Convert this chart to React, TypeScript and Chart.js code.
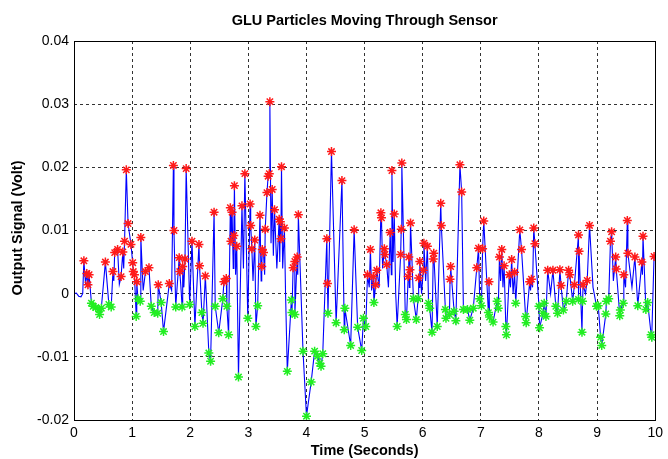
import { useEffect, useRef } from "react";
import { Chart, registerables } from "chart.js";

Chart.register(...registerables);

const chartTitle = "GLU Particles Moving Through Sensor";
const xTitle = "Time (Seconds)";
const yTitle = "Output Signal (Volt)";

const xTicks = [0, 1, 2, 3, 4, 5, 6, 7, 8, 9, 10];
const yTicks = [-0.02, -0.01, 0, 0.01, 0.02, 0.03, 0.04];
const yTickLabels = ["-0.02", "-0.01", "0", "0.01", "0.02", "0.03", "0.04"];

// red markers (peaks)
const peakTimes = [
  0.17, 0.22, 0.24, 0.26, 0.54, 0.67, 0.70, 0.75, 0.81, 0.84, 0.87, 0.90, 0.93, 0.98,
  1.01, 1.02, 1.04, 1.08, 1.15, 1.23, 1.29, 1.45, 1.64, 1.71, 1.72, 1.81, 1.82, 1.87,
  1.91, 1.93, 2.03, 2.15, 2.16, 2.26, 2.41, 2.58, 2.62, 2.69, 2.70, 2.72, 2.75, 2.76,
  2.80, 2.89, 2.94, 3.03, 3.04, 3.06, 3.11, 3.20, 3.23, 3.24, 3.26, 3.29, 3.32, 3.34,
  3.36, 3.37, 3.41, 3.45, 3.53, 3.55, 3.56, 3.57, 3.62, 3.77, 3.80, 3.84, 3.86, 4.35,
  4.36, 4.43, 4.61, 4.82, 5.05, 5.10, 5.15, 5.19, 5.21, 5.28, 5.29, 5.34, 5.35, 5.38,
  5.44, 5.47, 5.51, 5.62, 5.63, 5.64, 5.75, 5.76, 5.78, 5.79, 5.93, 5.95, 6.01, 6.02,
  6.08, 6.18, 6.19, 6.31, 6.32, 6.47, 6.48, 6.64, 6.67, 6.93, 6.96, 7.03, 7.05, 7.14,
  7.32, 7.36, 7.40, 7.49, 7.53, 7.58, 7.67, 7.70, 7.84, 7.87, 7.91, 7.93, 8.15, 8.24,
  8.36, 8.38, 8.51, 8.53, 8.61, 8.68, 8.69, 8.76, 8.83, 8.87, 9.23, 9.25, 9.32, 9.33,
  9.46, 9.52, 9.53, 9.65, 9.77, 9.79, 9.98,
];
const peakValues = [
  0.0052, 0.0032, 0.0014, 0.0030, 0.0050, 0.0035, 0.0065, 0.0070, 0.0027, 0.0066, 0.0083, 0.0196, 0.0111, 0.0078,
  0.0049, 0.0035, 0.0030, 0.0019, 0.0089, 0.0035, 0.0041, 0.0014, 0.0016, 0.0203, 0.0100, 0.0057, 0.0035, 0.0043,
  0.0055, 0.0198, 0.0083, 0.0078, 0.0044, 0.0028, 0.0129, 0.0019, 0.0024, 0.0136, 0.0083, 0.0129, 0.0092, 0.0171,
  0.0075, 0.0139, 0.0190, 0.0142, 0.0108, 0.0071, 0.0085, 0.0124, 0.0043, 0.0070, 0.0065, 0.0102, 0.0160, 0.0186,
  0.0190, 0.0304, 0.0165, 0.0133, 0.0118, 0.0114, 0.0087, 0.0201, 0.0104, 0.0041, 0.0051, 0.0058, 0.0125, 0.0087,
  0.0016, 0.0225, 0.0179, 0.0101, 0.0030, 0.0070, 0.0027, 0.0014, 0.0037, 0.0128, 0.0120, 0.0071, 0.0062, 0.0046,
  0.0097, 0.0195, 0.0126, 0.0062, 0.0102, 0.0207, 0.0027, 0.0058, 0.0038, 0.0112, 0.0025, 0.0051, 0.0037, 0.0080,
  0.0075, 0.0055, 0.0064, 0.0143, 0.0108, 0.0023, 0.0043, 0.0204, 0.0161, 0.0041, 0.0072, 0.0071, 0.0115, 0.0019,
  0.0058, 0.0070, 0.0044, 0.0030, 0.0054, 0.0034, 0.0101, 0.0070, 0.0019, 0.0023, 0.0104, 0.0079, 0.0037, 0.0037,
  0.0038, 0.0013, 0.0037, 0.0030, 0.0014, 0.0093, 0.0067, 0.0014, 0.0021, 0.0108, 0.0083, 0.0098, 0.0058, 0.0039,
  0.0030, 0.0116, 0.0064, 0.0058, 0.0050, 0.0091, 0.0059,
];

// green markers (troughs)
const troughTimes = [
  0.30, 0.33, 0.375, 0.43, 0.44, 0.47, 0.60, 0.64, 1.07, 1.10, 1.14, 1.33, 1.38, 1.44,
  1.50, 1.54, 1.75, 1.86, 1.99, 2.08, 2.20, 2.22, 2.32, 2.35, 2.43, 2.49, 2.56, 2.63,
  2.66, 2.83, 2.99, 3.13, 3.16, 3.67, 3.74, 3.75, 3.80, 3.94, 4.00, 4.08, 4.14, 4.19,
  4.23, 4.25, 4.28, 4.37, 4.51, 4.65, 4.66, 4.76, 4.88, 4.95, 4.98, 5.02, 5.16, 5.56,
  5.70, 5.72, 5.84, 5.89, 5.92, 6.10, 6.12, 6.16, 6.25, 6.39, 6.40, 6.46, 6.54, 6.57,
  6.70, 6.77, 6.81, 6.87, 6.98, 7.01, 7.13, 7.15, 7.21, 7.28, 7.30, 7.43, 7.44, 7.60,
  7.77, 7.78, 8.00, 8.01, 8.07, 8.09, 8.12, 8.29, 8.32, 8.42, 8.47, 8.58, 8.68, 8.74,
  8.75, 8.99, 9.02, 9.06, 9.08, 9.15, 9.16, 9.20, 9.39, 9.40, 9.45, 9.70, 9.84, 9.87,
  9.93, 9.94,
];
const troughValues = [
  -0.0015, -0.0020, -0.0022, -0.0025, -0.0033, -0.0023, -0.0017, -0.0021, -0.0036, -0.0008, -0.0012, -0.0020, -0.0030, -0.0031,
  -0.0014, -0.0060, -0.0021, -0.0021, -0.0017, -0.0052, -0.0030, -0.0047, -0.0094, -0.0107, -0.0020, -0.0062, -0.0008, -0.0020,
  -0.0065, -0.0132, -0.0039, -0.0052, -0.0019, -0.0123, -0.0010, -0.0030, -0.0033, -0.0091, -0.0194, -0.0140, -0.0091, -0.0099,
  -0.0110, -0.0115, -0.0095, -0.0031, -0.0046, -0.0057, -0.0023, -0.0082, -0.0053, -0.0090, -0.0039, -0.0052, -0.0014, -0.0052,
  -0.0033, -0.0041, -0.0008, -0.0041, -0.0008, -0.0015, -0.0023, -0.0061, -0.0052, -0.0025, -0.0039, -0.0033, -0.0028, -0.0043,
  -0.0025, -0.0025, -0.0042, -0.0023, -0.0008, -0.0019, -0.0030, -0.0037, -0.0045, -0.0012, -0.0023, -0.0052, -0.0065, -0.0015,
  -0.0036, -0.0046, -0.0020, -0.0054, -0.0031, -0.0015, -0.0036, -0.0020, -0.0031, -0.0026, -0.0012, -0.0012, -0.0009, -0.0061,
  -0.0012, -0.0020, -0.0019, -0.0069, -0.0082, -0.0032, -0.0012, -0.0008, -0.0035, -0.0026, -0.0015, -0.0019, -0.0025, -0.0014,
  -0.0065, -0.0069,
];

// unmarked samples of the signal (baseline, valleys between neighbouring peaks, end)
const baseTimes = [
  0, 0.04, 0.08, 0.12, 0.15, 0.20, 0.685, 0.78, 0.855, 1.19, 1.68, 1.84, 1.89, 2.74,
  2.78, 2.915, 3.08, 3.22, 3.28, 3.39, 3.43, 3.49, 3.54, 3.59, 3.64, 3.85, 5.08, 5.12,
  5.25, 5.31, 5.41, 5.46, 5.49, 5.535, 5.77, 5.94, 5.98, 6.05, 7.34, 7.38, 7.51, 7.555,
  7.855, 7.89, 8.20, 8.80, 8.93, 9.28, 9.49, 9.60, 9.78, 9.99, 10,
];
const baseValues = [
  0, 0.0001, -0.0004, -0.0005, 0.0, 0.0015, 0.0020, 0.0015, 0.0040, 0.0005, 0.0005, 0.0010, 0.0010, 0.0040,
  0.0030, 0.0040, 0.0020, 0.0020, 0.0030, 0.0080, 0.0060, 0.0040, 0.0050, 0.0040, 0.0, 0.0030, 0.0010, 0.0005,
  0.0010, 0.0040, 0.0010, 0.0030, 0.0050, 0.0, 0.0010, 0.0010, 0.0, 0.0020, 0.0020, 0.0010, 0.0010, 0.0,
  0.0005, 0.0010, 0.0, 0.0, 0.0010, 0.0020, 0.0010, 0.0010, 0.0030, 0.0062, 0.0057,
];

const FONT = "'Liberation Sans', Arial, sans-serif";

export default function App() {
  const ref = useRef<HTMLCanvasElement>(null);

  useEffect(() => {
    const pts = (t: number[], v: number[]) => t.map((x, i) => ({ x, y: v[i] }));
    const signal = [
      ...pts(peakTimes, peakValues),
      ...pts(troughTimes, troughValues),
      ...pts(baseTimes, baseValues),
    ].sort((a, b) => a.x - b.x);

    const textPlugin = {
      id: "texts",
      afterDraw(chart: any) {
        const ctx = chart.ctx;
        const a = chart.chartArea;
        ctx.save();
        ctx.strokeStyle = "#000";
        ctx.lineWidth = 1;
        ctx.setLineDash([]);
        ctx.strokeRect(Math.round(a.left) + 0.5, Math.round(a.top) + 0.5, Math.round(a.right - a.left), Math.round(a.bottom - a.top));
        ctx.fillStyle = "#000";
        ctx.textAlign = "center";
        ctx.textBaseline = "middle";
        ctx.font = `bold 14.5px ${FONT}`;
        const cx = (a.left + a.right) / 2;
        ctx.fillText(chartTitle, cx, 21);
        ctx.fillText(xTitle, cx, 451);
        ctx.translate(18, 228);
        ctx.rotate(-Math.PI / 2);
        ctx.fillText(yTitle, 0, 0);
        ctx.restore();
      },
    };

    const chart = new Chart(ref.current as HTMLCanvasElement, {
      type: "scatter",
      data: {
        datasets: [
          {
            label: "peaks",
            data: pts(peakTimes, peakValues),
            pointStyle: "star",
            pointRadius: 4.5,
            borderColor: "#ff1a1a",
            backgroundColor: "#ff1a1a",
            borderWidth: 1.5,
            order: 0,
          },
          {
            label: "troughs",
            data: pts(troughTimes, troughValues),
            pointStyle: "star",
            pointRadius: 4.5,
            borderColor: "#22ee22",
            backgroundColor: "#22ee22",
            borderWidth: 1.5,
            order: 1,
          },
          {
            label: "signal",
            type: "line",
            data: signal,
            showLine: true,
            borderColor: "#0000ff",
            borderWidth: 1.1,
            pointRadius: 0,
            tension: 0,
            order: 2,
          } as any,
        ],
      },
      options: {
        animation: false,
        responsive: false,
        maintainAspectRatio: false,
        layout: { padding: { left: 0, right: 8, top: 41, bottom: 0 } },
        plugins: {
          legend: { display: false },
          tooltip: { enabled: false },
          title: { display: false },
        },
        scales: {
          x: {
            type: "linear",
            min: 0,
            max: 10,
            afterBuildTicks: (s: any) => {
              s.ticks = xTicks.map((v) => ({ value: v }));
            },
            afterFit: (s: any) => {
              s.height = 39;
            },
            grid: { color: "#333", lineWidth: 1, drawTicks: false },
            border: { display: false, dash: [3, 3] },
            ticks: {
              padding: 5,
              color: "#000",
              font: { family: FONT, size: 14 },
              callback: (v: any) => String(v),
            },
          },
          y: {
            type: "linear",
            min: -0.02,
            max: 0.04,
            afterBuildTicks: (s: any) => {
              s.ticks = yTicks.map((v) => ({ value: v }));
            },
            afterFit: (s: any) => {
              s.width = 74;
            },
            grid: { color: "#333", lineWidth: 1, drawTicks: false },
            border: { display: false, dash: [3, 3] },
            ticks: {
              padding: 5,
              color: "#000",
              font: { family: FONT, size: 14 },
              callback: (v: any) => {
                const i = yTicks.findIndex((t) => Math.abs(t - Number(v)) < 1e-9);
                return i >= 0 ? yTickLabels[i] : "";
              },
            },
          },
        },
      },
      plugins: [textPlugin],
    } as any);

    return () => chart.destroy();
  }, []);

  return (
    <div style={{ position: "fixed", left: 0, top: 0, width: 668, height: 459, background: "#fff" }}>
      <canvas ref={ref} width={668} height={459} style={{ width: 668, height: 459, display: "block" }} />
    </div>
  );
}
